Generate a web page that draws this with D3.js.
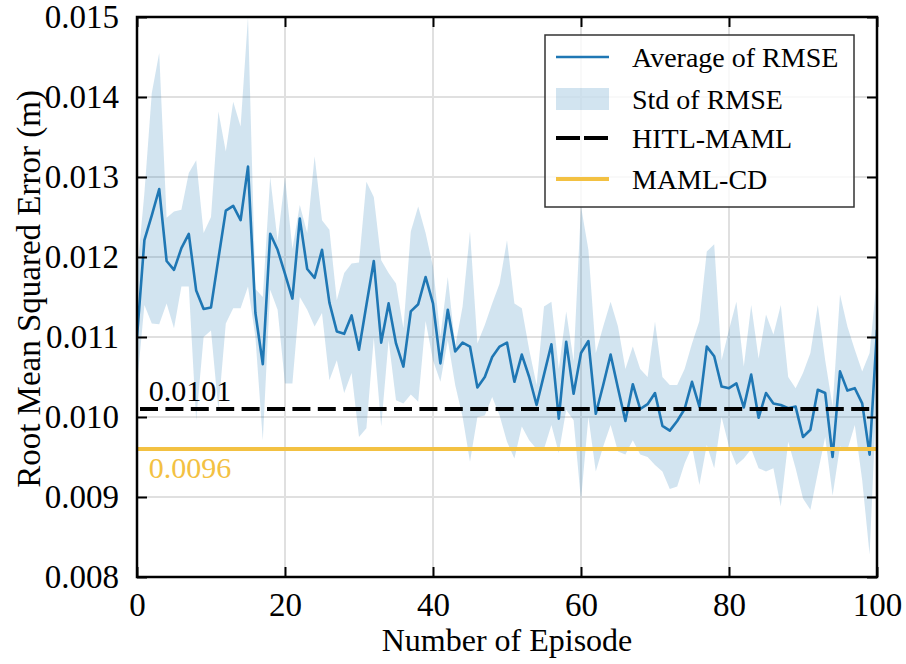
<!DOCTYPE html>
<html>
<head>
<meta charset="utf-8">
<script src="https://cdn.jsdelivr.net/npm/d3@7"></script>
<style>
  html, body { margin: 0; padding: 0; background: #fff; }
  svg { display: block; font-family: "Liberation Serif", "Times New Roman", serif; }
</style>
</head>
<body>
<svg id="chart" width="906" height="664"></svg>
<script>
// Episodes 0..100
const episodes = d3.range(0, 101);

// Average RMSE per episode
const meanRMSE = [
  0.0110, 0.01221, 0.01252, 0.01285, 0.01195, 0.01184, 0.01211, 0.01229, 0.01158, 0.01135,
  0.01137, 0.01198, 0.01258, 0.01264, 0.01246, 0.01313, 0.0113, 0.01066, 0.01229, 0.01209,
  0.01179, 0.01148, 0.01248, 0.01185, 0.01174, 0.01209, 0.01143, 0.01107, 0.01104, 0.01127,
  0.01084, 0.0114, 0.01195, 0.01093, 0.01142, 0.01092, 0.01063, 0.01132, 0.01141, 0.01175,
  0.01142, 0.01067, 0.01134, 0.01082, 0.01093, 0.01088, 0.01037, 0.0105, 0.01075, 0.01088,
  0.01093, 0.01044, 0.01078, 0.0105, 0.01015, 0.01053, 0.01091, 0.00998, 0.01094, 0.01029,
  0.0108, 0.01095, 0.01004, 0.0104, 0.01078, 0.01036, 0.00995, 0.01041, 0.0101, 0.01016,
  0.0103, 0.00989, 0.00983, 0.00995, 0.0101, 0.01044, 0.01013, 0.01088, 0.01076, 0.01038,
  0.01036, 0.01042, 0.01012, 0.01053, 0.00999, 0.0103, 0.01017, 0.01015, 0.01011, 0.01013,
  0.00975, 0.00984, 0.01034, 0.0103, 0.0095, 0.01057, 0.01033, 0.01036, 0.01017, 0.00953,
  0.01109
];

// Upper edge of the std band (mean + std)
const stdUpper = [
  0.0118, 0.0128, 0.01405, 0.01455, 0.01249, 0.01257, 0.01259, 0.01305, 0.01321, 0.0123,
  0.0125, 0.01382, 0.01332, 0.01394, 0.01363, 0.0150, 0.0116, 0.0115, 0.0130, 0.0122,
  0.0130, 0.0121, 0.01265, 0.0123, 0.01326, 0.01246, 0.01234, 0.01146, 0.0118, 0.01192,
  0.01193, 0.01294, 0.01275, 0.01196, 0.0118, 0.01167, 0.01111, 0.01232, 0.01263, 0.0123,
  0.01188, 0.01101, 0.01175, 0.01088, 0.01138, 0.01232, 0.01092, 0.01115, 0.01142, 0.01167,
  0.01221, 0.01142, 0.01136, 0.01084, 0.0104, 0.01138, 0.01144, 0.0106, 0.01132, 0.0107,
  0.01263, 0.01209, 0.0108, 0.01113, 0.01144, 0.01113, 0.0106, 0.01088, 0.0106, 0.0105,
  0.01119, 0.0105, 0.0104, 0.0104, 0.0106, 0.01092, 0.0112, 0.01207, 0.01216, 0.01071,
  0.01109, 0.01144, 0.01063, 0.0114, 0.01073, 0.01128, 0.01103, 0.0114, 0.0105, 0.01036,
  0.01055, 0.0108, 0.0114, 0.01071, 0.01013, 0.01153, 0.01113, 0.01084, 0.01057, 0.0108,
  0.01175
];

// Lower edge of the std band (mean - std)
const stdLower = [
  0.0104, 0.0114, 0.01117, 0.01116, 0.01142, 0.01111, 0.01163, 0.01163, 0.00996, 0.0110,
  0.01108, 0.01009, 0.01117, 0.01136, 0.01136, 0.01163, 0.0110, 0.00971, 0.01159, 0.01134,
  0.01042, 0.01042, 0.0115, 0.01134, 0.01113, 0.0113, 0.01046, 0.01071, 0.0103, 0.01055,
  0.00975, 0.00986, 0.01099, 0.00988, 0.01096, 0.01021, 0.01017, 0.01028, 0.01019, 0.0112,
  0.01071, 0.01044, 0.01096, 0.0104, 0.0100, 0.00944, 0.0100, 0.01002, 0.01025, 0.01002,
  0.00969, 0.00948, 0.00988, 0.00971, 0.0096, 0.0096, 0.0099, 0.00955, 0.01009, 0.00996,
  0.00896, 0.0100, 0.00932, 0.00963, 0.0099, 0.00957, 0.00953, 0.00971, 0.00953, 0.0095,
  0.0094, 0.00932, 0.0091, 0.00913, 0.00942, 0.00963, 0.00915, 0.00965, 0.00936, 0.0100,
  0.00963, 0.0094, 0.00948, 0.0096, 0.00936, 0.00932, 0.00936, 0.00888, 0.00969, 0.00936,
  0.00898, 0.00884, 0.0093, 0.00975, 0.00902, 0.00963, 0.00959, 0.0099, 0.00921, 0.00828,
  0.0104
];

// Reference baselines
const hitlMaml = 0.0101;
const mamlCd = 0.0096;

// Axis ticks
const xTicks = [0, 20, 40, 60, 80, 100];
const yTicks = [0.008, 0.009, 0.010, 0.011, 0.012, 0.013, 0.014, 0.015];
const yTickLabels = ["0.008", "0.009", "0.010", "0.011", "0.012", "0.013", "0.014", "0.015"];

const legendLabels = ["Average of RMSE", "Std of RMSE", "HITL-MAML", "MAML-CD"];

// ---- layout ----
const svg = d3.select("#chart");
const W = 906, H = 664;
const margin = { left: 137, right: 29, top: 17, bottom: 87 };
const x0 = margin.left, x1 = W - margin.right, y0 = margin.top, y1 = H - margin.bottom;

const x = d3.scaleLinear().domain([0, 100]).range([x0, x1]);
const y = d3.scaleLinear().domain([0.008, 0.015]).range([y1, y0]);

const blue = "#1f77b4";
const bandFill = "#1f77b4";
const gold = "#f3c142";
const serif = '"Liberation Serif", "Times New Roman", serif';

svg.append("defs").append("clipPath").attr("id", "plotClip")
  .append("rect").attr("x", x0).attr("y", y0).attr("width", x1 - x0).attr("height", y1 - y0);

// grid
const grid = svg.append("g").attr("class", "grid");
grid.selectAll("line.vx").data(xTicks).join("line")
  .attr("x1", d => x(d)).attr("x2", d => x(d)).attr("y1", y0).attr("y2", y1)
  .attr("stroke", "#e0e0e0").attr("stroke-width", 2);
grid.selectAll("line.hy").data(yTicks).join("line")
  .attr("x1", x0).attr("x2", x1).attr("y1", d => y(d)).attr("y2", d => y(d))
  .attr("stroke", "#e0e0e0").attr("stroke-width", 2);

const plot = svg.append("g").attr("clip-path", "url(#plotClip)");

// std band
const area = d3.area()
  .x((d, i) => x(episodes[i]))
  .y0((d, i) => y(stdLower[i]))
  .y1((d, i) => y(stdUpper[i]));
plot.append("path").datum(meanRMSE).attr("d", area)
  .attr("fill", bandFill).attr("fill-opacity", 0.2).attr("stroke", "none");

// average line
const line = d3.line().x((d, i) => x(episodes[i])).y(d => y(d));
plot.append("path").datum(meanRMSE).attr("d", line)
  .attr("fill", "none").attr("stroke", blue).attr("stroke-width", 2.6)
  .attr("stroke-linejoin", "round");

// HITL-MAML baseline
plot.append("line")
  .attr("x1", x(0)).attr("x2", x(100)).attr("y1", y(hitlMaml)).attr("y2", y(hitlMaml))
  .attr("stroke", "#000").attr("stroke-width", 4).attr("stroke-dasharray", "18,7.4")
  .attr("stroke-dashoffset", -3);

// MAML-CD baseline
plot.append("line")
  .attr("x1", x(0)).attr("x2", x(100)).attr("y1", y(mamlCd)).attr("y2", y(mamlCd))
  .attr("stroke", gold).attr("stroke-width", 4);

// value annotations
svg.append("text").attr("x", x(1.6)).attr("y", y(hitlMaml) - 8)
  .attr("font-size", 30).attr("fill", "#000").text(hitlMaml.toFixed(4));
svg.append("text").attr("x", x(1.6)).attr("y", y(mamlCd) + 29)
  .attr("font-size", 30).attr("fill", gold).text(mamlCd.toFixed(4));

// axes (inward ticks on all four sides)
const tickLen = 10;
function styleAxis(g) {
  g.select(".domain").remove();
  g.selectAll(".tick line").attr("stroke", "#000").attr("stroke-width", 2);
  g.selectAll(".tick text").attr("font-family", serif).attr("font-size", 33).attr("fill", "#000");
}
svg.append("g").attr("transform", `translate(0,${y1})`)
  .call(d3.axisBottom(x).tickValues(xTicks).tickFormat(d3.format("d")).tickSize(-tickLen).tickPadding(16))
  .call(styleAxis);
svg.append("g").attr("transform", `translate(0,${y0})`)
  .call(d3.axisTop(x).tickValues(xTicks).tickFormat("").tickSize(-tickLen))
  .call(styleAxis);
svg.append("g").attr("transform", `translate(${x0},0)`)
  .call(d3.axisLeft(y).tickValues(yTicks).tickFormat((d, i) => yTickLabels[i]).tickSize(-tickLen).tickPadding(18))
  .call(styleAxis);
svg.append("g").attr("transform", `translate(${x1},0)`)
  .call(d3.axisRight(y).tickValues(yTicks).tickFormat("").tickSize(-tickLen))
  .call(styleAxis);

// frame
svg.append("rect").attr("x", x0).attr("y", y0).attr("width", x1 - x0).attr("height", y1 - y0)
  .attr("fill", "none").attr("stroke", "#000").attr("stroke-width", 2.5);

// axis titles
svg.append("text").attr("x", (x0 + x1) / 2).attr("y", 651).attr("text-anchor", "middle")
  .attr("font-size", 32).attr("fill", "#000").text("Number of Episode");
svg.append("text").attr("transform", `translate(40,${(y0 + y1) / 2 - 8}) rotate(-90)`)
  .attr("text-anchor", "middle").attr("font-size", 33).attr("fill", "#000")
  .text("Root Mean Squared Error (m)");

// legend
const lg = svg.append("g").attr("transform", "translate(545,35)");
lg.append("rect").attr("width", 309).attr("height", 172)
  .attr("fill", "#fff").attr("fill-opacity", 0.8).attr("stroke", "#333").attr("stroke-width", 1.5);
const rowY = [22, 64, 103, 144];
const hx0 = 11, hx1 = 64;
lg.append("line").attr("x1", hx0).attr("x2", hx1).attr("y1", rowY[0]).attr("y2", rowY[0])
  .attr("stroke", blue).attr("stroke-width", 2.6);
lg.append("rect").attr("x", hx0).attr("y", rowY[1] - 11).attr("width", hx1 - hx0).attr("height", 22)
  .attr("fill", bandFill).attr("fill-opacity", 0.2);
lg.append("line").attr("x1", hx0).attr("x2", hx1).attr("y1", rowY[2]).attr("y2", rowY[2])
  .attr("stroke", "#000").attr("stroke-width", 4).attr("stroke-dasharray", "24,4");
lg.append("line").attr("x1", hx0).attr("x2", hx1).attr("y1", rowY[3]).attr("y2", rowY[3])
  .attr("stroke", gold).attr("stroke-width", 4);
lg.selectAll("text.lab").data(legendLabels).join("text")
  .attr("x", 87).attr("y", (d, i) => rowY[i]).attr("dy", "0.34em")
  .attr("font-size", 28).attr("fill", "#000").text(d => d);
</script>
</body>
</html>
